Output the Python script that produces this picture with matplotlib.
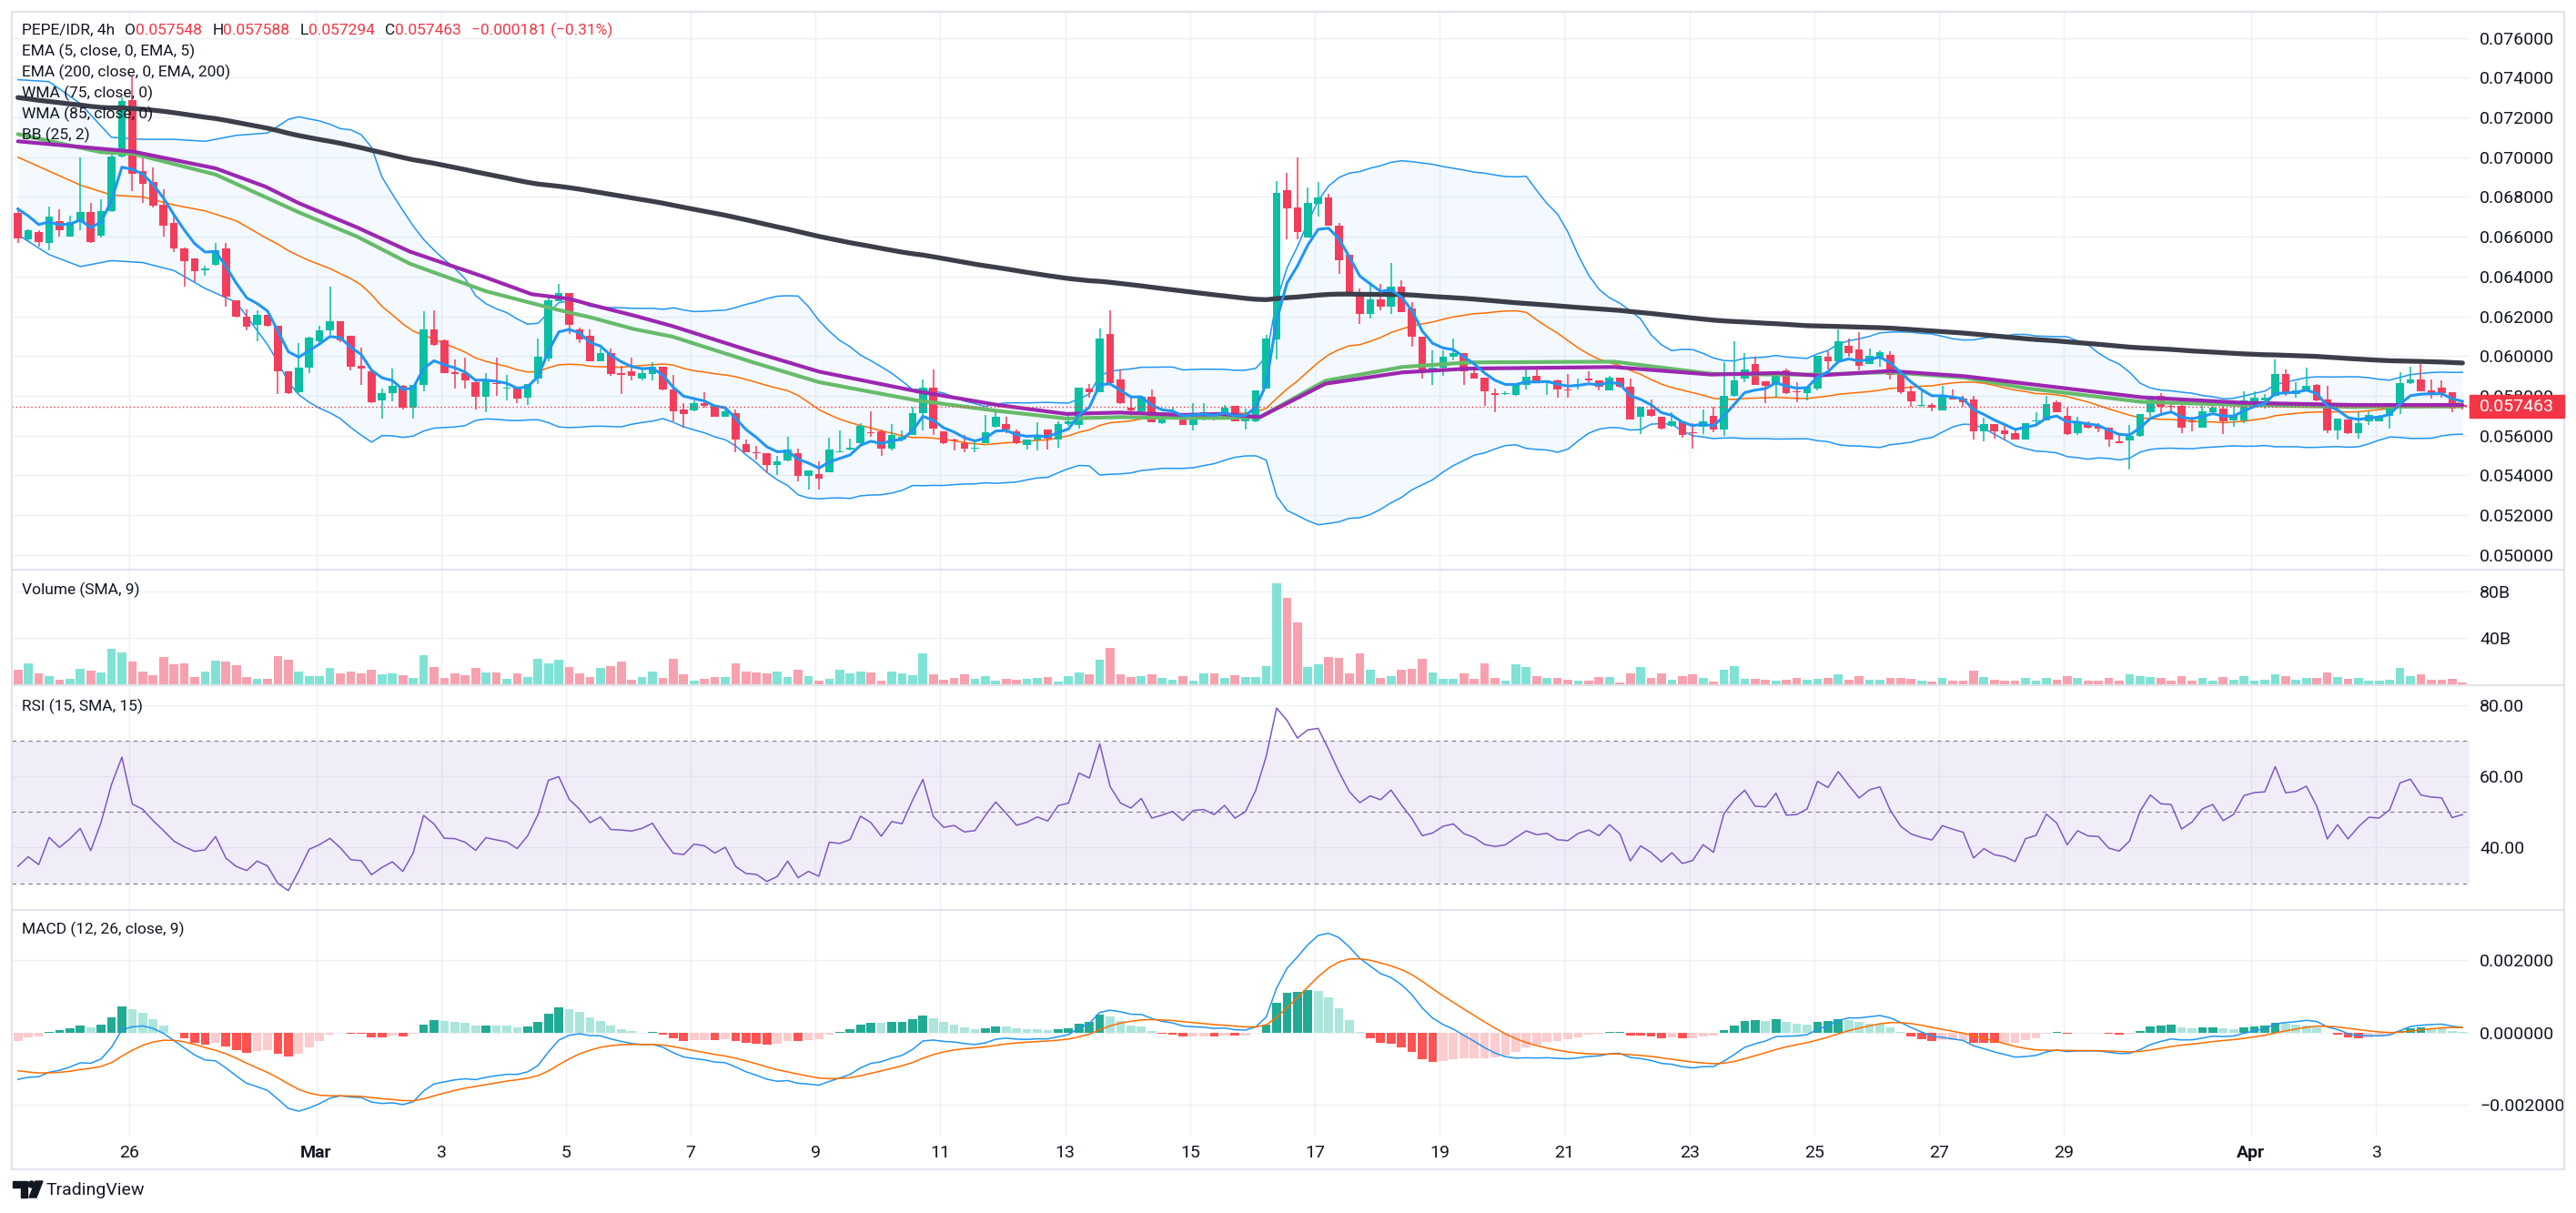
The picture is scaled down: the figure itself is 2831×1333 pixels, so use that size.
import numpy as np
import matplotlib
matplotlib.use("Agg")
import matplotlib.pyplot as plt
from matplotlib import transforms
from matplotlib.patches import Rectangle, Polygon, Circle

plt.rcParams['font.family'] = ['Roboto', 'DejaVu Sans']

# ---------------------------------------------------------------- data
first_candle_day = -4.78          # days after 1 Mar 00:00, 4h candles
candle_days = 1 / 6

opens = [
    0.06720, 0.06586, 0.06624, 0.06567, 0.06677, 0.06601, 0.06672, 0.06726, 0.06605, 0.06727,
    0.07005, 0.07287, 0.06929, 0.06875, 0.06761, 0.06669, 0.06543, 0.06491, 0.06430, 0.06459,
    0.06540, 0.06280, 0.06197, 0.06158, 0.06207, 0.06151, 0.05922, 0.05818, 0.05940, 0.06075,
    0.06128, 0.06174, 0.06101, 0.05953, 0.05925, 0.05777, 0.05815, 0.05849, 0.05742, 0.05854,
    0.06133, 0.06079, 0.05919, 0.05915, 0.05869, 0.05797, 0.05866, 0.05838, 0.05846, 0.05793,
    0.05889, 0.05986, 0.06277, 0.06316, 0.06136, 0.06101, 0.05975, 0.06014, 0.05915, 0.05922,
    0.05889, 0.05910, 0.05945, 0.05834, 0.05732, 0.05727, 0.05762, 0.05754, 0.05697, 0.05713,
    0.05556, 0.05518, 0.05511, 0.05450, 0.05477, 0.05511, 0.05399, 0.05407, 0.05416, 0.05518,
    0.05529, 0.05561, 0.05617, 0.05620, 0.05536, 0.05582, 0.05605, 0.05712, 0.05841, 0.05620,
    0.05579, 0.05564, 0.05533, 0.05564, 0.05643, 0.05658, 0.05620, 0.05552, 0.05579, 0.05629,
    0.05579, 0.05660, 0.05655, 0.05838, 0.05820, 0.06110, 0.05884, 0.05739, 0.05720, 0.05796,
    0.05663, 0.05686, 0.05693, 0.05652, 0.05693, 0.05713, 0.05689, 0.05750, 0.05671, 0.05674,
    0.05838, 0.06082, 0.06834, 0.06749, 0.06598, 0.06766, 0.06796, 0.06654, 0.06509, 0.06319,
    0.06212, 0.06284, 0.06250, 0.06349, 0.06238, 0.06098, 0.05918, 0.05940, 0.05998, 0.06014,
    0.05915, 0.05892, 0.05812, 0.05808, 0.05803, 0.05854, 0.05899, 0.05869, 0.05876, 0.05834,
    0.05849, 0.05887, 0.05876, 0.05828, 0.05892, 0.05846, 0.05693, 0.05732, 0.05693, 0.05651,
    0.05674, 0.05617, 0.05643, 0.05698, 0.05629, 0.05800, 0.05889, 0.05960, 0.05872, 0.05854,
    0.05930, 0.05823, 0.05815, 0.05838, 0.05995, 0.05976, 0.06052, 0.06034, 0.05960, 0.05986,
    0.06006, 0.05910, 0.05823, 0.05750, 0.05754, 0.05728, 0.05796, 0.05788, 0.05782, 0.05622,
    0.05658, 0.05625, 0.05613, 0.05582, 0.05670, 0.05675, 0.05770, 0.05698, 0.05613, 0.05663,
    0.05651, 0.05640, 0.05571, 0.05576, 0.05597, 0.05716, 0.05800, 0.05747, 0.05750, 0.05670,
    0.05640, 0.05719, 0.05735, 0.05678, 0.05678, 0.05774, 0.05777, 0.05800, 0.05910, 0.05808,
    0.05826, 0.05857, 0.05782, 0.05628, 0.05681, 0.05613, 0.05674, 0.05674, 0.05698, 0.05735,
    0.05866, 0.05884, 0.05828, 0.05841, 0.05820, 0.057548,
]
highs = [
    0.06746, 0.06639, 0.06631, 0.06753, 0.06738, 0.06708, 0.06997, 0.06769, 0.06787, 0.07028,
    0.07302, 0.07409, 0.07013, 0.06947, 0.06837, 0.06708, 0.06545, 0.06493, 0.06456, 0.06567,
    0.06567, 0.06282, 0.06235, 0.06230, 0.06209, 0.06153, 0.05925, 0.06067, 0.06098, 0.06151,
    0.06349, 0.06177, 0.06103, 0.06044, 0.05927, 0.05838, 0.05937, 0.05854, 0.05854, 0.06227,
    0.06230, 0.06082, 0.05983, 0.05994, 0.05871, 0.05915, 0.05991, 0.05907, 0.05848, 0.05861,
    0.06090, 0.06296, 0.06364, 0.06318, 0.06143, 0.06136, 0.06040, 0.06040, 0.05953, 0.05991,
    0.05937, 0.05968, 0.05945, 0.05907, 0.05762, 0.05777, 0.05819, 0.05754, 0.05735, 0.05732,
    0.05579, 0.05549, 0.05511, 0.05498, 0.05594, 0.05536, 0.05424, 0.05469, 0.05590, 0.05628,
    0.05587, 0.05663, 0.05721, 0.05632, 0.05658, 0.05625, 0.05747, 0.05884, 0.05933, 0.05620,
    0.05587, 0.05602, 0.05571, 0.05704, 0.05724, 0.05693, 0.05632, 0.05582, 0.05666, 0.05632,
    0.05670, 0.05717, 0.05841, 0.05861, 0.06140, 0.06232, 0.05933, 0.05800, 0.05796, 0.05831,
    0.05693, 0.05747, 0.05698, 0.05762, 0.05762, 0.05717, 0.05754, 0.05750, 0.05735, 0.05826,
    0.06105, 0.06880, 0.06921, 0.06999, 0.06848, 0.06875, 0.06817, 0.06669, 0.06509, 0.06338,
    0.06372, 0.06364, 0.06467, 0.06380, 0.06273, 0.06098, 0.06029, 0.06029, 0.06090, 0.06014,
    0.05945, 0.05892, 0.05838, 0.05823, 0.05861, 0.05942, 0.05933, 0.05876, 0.05884, 0.05910,
    0.05887, 0.05922, 0.05876, 0.05899, 0.05892, 0.05889, 0.05744, 0.05780, 0.05693, 0.05716,
    0.05674, 0.05663, 0.05732, 0.05747, 0.05971, 0.06075, 0.06017, 0.05998, 0.05872, 0.05925,
    0.05937, 0.05869, 0.05846, 0.06001, 0.06024, 0.06133, 0.06090, 0.06120, 0.06037, 0.06029,
    0.06024, 0.05910, 0.05850, 0.05823, 0.05762, 0.05850, 0.05834, 0.05800, 0.05800, 0.05689,
    0.05658, 0.05648, 0.05632, 0.05663, 0.05716, 0.05800, 0.05777, 0.05739, 0.05693, 0.05670,
    0.05663, 0.05640, 0.05605, 0.05655, 0.05709, 0.05800, 0.05815, 0.05758, 0.05762, 0.05693,
    0.05774, 0.05762, 0.05765, 0.05774, 0.05823, 0.05823, 0.05811, 0.05983, 0.05933, 0.05869,
    0.05942, 0.05861, 0.05850, 0.05686, 0.05681, 0.05719, 0.05724, 0.05704, 0.05747, 0.05918,
    0.05945, 0.05960, 0.05881, 0.05876, 0.05820, 0.057588,
]
lows = [
    0.06567, 0.06578, 0.06552, 0.06532, 0.06601, 0.06601, 0.06634, 0.06570, 0.06596, 0.06723,
    0.06997, 0.06830, 0.06769, 0.06749, 0.06601, 0.06521, 0.06349, 0.06372, 0.06403, 0.06453,
    0.06247, 0.06195, 0.06131, 0.06075, 0.06149, 0.05808, 0.05808, 0.05815, 0.05915, 0.06052,
    0.06105, 0.06070, 0.05930, 0.05854, 0.05762, 0.05686, 0.05773, 0.05732, 0.05686, 0.05823,
    0.06052, 0.05915, 0.05838, 0.05838, 0.05732, 0.05716, 0.05800, 0.05777, 0.05762, 0.05754,
    0.05861, 0.05975, 0.06277, 0.06113, 0.06067, 0.05972, 0.05975, 0.05899, 0.05808, 0.05876,
    0.05876, 0.05876, 0.05826, 0.05670, 0.05640, 0.05724, 0.05739, 0.05693, 0.05693, 0.05514,
    0.05514, 0.05480, 0.05414, 0.05404, 0.05472, 0.05369, 0.05328, 0.05328, 0.05416, 0.05518,
    0.05526, 0.05559, 0.05594, 0.05500, 0.05526, 0.05571, 0.05602, 0.05628, 0.05602, 0.05556,
    0.05526, 0.05514, 0.05518, 0.05561, 0.05640, 0.05613, 0.05556, 0.05530, 0.05526, 0.05530,
    0.05541, 0.05648, 0.05637, 0.05790, 0.05820, 0.05854, 0.05759, 0.05693, 0.05717, 0.05666,
    0.05658, 0.05683, 0.05652, 0.05625, 0.05678, 0.05678, 0.05689, 0.05671, 0.05632, 0.05666,
    0.05838, 0.05983, 0.06586, 0.06586, 0.06598, 0.06700, 0.06654, 0.06415, 0.06314, 0.06162,
    0.06189, 0.06232, 0.06212, 0.06223, 0.06049, 0.05887, 0.05857, 0.05902, 0.05980, 0.05854,
    0.05887, 0.05750, 0.05716, 0.05805, 0.05800, 0.05834, 0.05869, 0.05803, 0.05790, 0.05790,
    0.05834, 0.05869, 0.05826, 0.05826, 0.05841, 0.05681, 0.05610, 0.05693, 0.05632, 0.05645,
    0.05591, 0.05536, 0.05610, 0.05617, 0.05597, 0.05796, 0.05869, 0.05854, 0.05762, 0.05796,
    0.05808, 0.05770, 0.05777, 0.05826, 0.05934, 0.05973, 0.05995, 0.05930, 0.05960, 0.05945,
    0.05884, 0.05808, 0.05747, 0.05747, 0.05724, 0.05728, 0.05782, 0.05747, 0.05582, 0.05571,
    0.05587, 0.05582, 0.05579, 0.05582, 0.05655, 0.05675, 0.05716, 0.05605, 0.05605, 0.05637,
    0.05617, 0.05545, 0.05561, 0.05430, 0.05594, 0.05693, 0.05701, 0.05716, 0.05613, 0.05622,
    0.05640, 0.05716, 0.05610, 0.05643, 0.05663, 0.05770, 0.05735, 0.05797, 0.05800, 0.05790,
    0.05823, 0.05774, 0.05613, 0.05582, 0.05610, 0.05587, 0.05652, 0.05670, 0.05637, 0.05709,
    0.05861, 0.05823, 0.05785, 0.05790, 0.05719, 0.057294,
]
closes = [
    0.06593, 0.06634, 0.06575, 0.06700, 0.06631, 0.06672, 0.06723, 0.06573, 0.06727, 0.07002,
    0.07284, 0.06918, 0.06868, 0.06758, 0.06657, 0.06543, 0.06479, 0.06428, 0.06439, 0.06532,
    0.06300, 0.06197, 0.06146, 0.06207, 0.06151, 0.05922, 0.05815, 0.05940, 0.06093, 0.06128,
    0.06174, 0.06078, 0.05948, 0.05937, 0.05770, 0.05815, 0.05849, 0.05742, 0.05854, 0.06133,
    0.06055, 0.05915, 0.05911, 0.05876, 0.05797, 0.05881, 0.05861, 0.05843, 0.05788, 0.05861,
    0.05998, 0.06280, 0.06316, 0.06158, 0.06082, 0.05972, 0.06014, 0.05911, 0.05907, 0.05899,
    0.05915, 0.05945, 0.05834, 0.05720, 0.05709, 0.05762, 0.05750, 0.05697, 0.05724, 0.05579,
    0.05518, 0.05511, 0.05450, 0.05469, 0.05529, 0.05399, 0.05424, 0.05385, 0.05529, 0.05521,
    0.05538, 0.05648, 0.05613, 0.05536, 0.05605, 0.05594, 0.05712, 0.05841, 0.05637, 0.05564,
    0.05575, 0.05533, 0.05540, 0.05617, 0.05693, 0.05632, 0.05564, 0.05579, 0.05605, 0.05584,
    0.05658, 0.05670, 0.05841, 0.05820, 0.06087, 0.05866, 0.05762, 0.05729, 0.05796, 0.05666,
    0.05686, 0.05709, 0.05652, 0.05712, 0.05717, 0.05689, 0.05739, 0.05671, 0.05704, 0.05826,
    0.06087, 0.06822, 0.06743, 0.06624, 0.06769, 0.06796, 0.06654, 0.06483, 0.06314, 0.06212,
    0.06284, 0.06250, 0.06349, 0.06223, 0.06098, 0.05918, 0.05940, 0.05995, 0.06014, 0.05925,
    0.05889, 0.05823, 0.05805, 0.05815, 0.05857, 0.05896, 0.05869, 0.05876, 0.05834, 0.05828,
    0.05861, 0.05876, 0.05846, 0.05892, 0.05846, 0.05681, 0.05744, 0.05701, 0.05637, 0.05674,
    0.05602, 0.05613, 0.05674, 0.05629, 0.05800, 0.05876, 0.05933, 0.05854, 0.05851, 0.05925,
    0.05815, 0.05818, 0.05846, 0.06001, 0.05973, 0.06075, 0.06014, 0.05953, 0.06001, 0.06018,
    0.05907, 0.05820, 0.05774, 0.05754, 0.05739, 0.05800, 0.05782, 0.05767, 0.05622, 0.05658,
    0.05622, 0.05610, 0.05582, 0.05663, 0.05675, 0.05759, 0.05719, 0.05610, 0.05666, 0.05640,
    0.05637, 0.05579, 0.05564, 0.05597, 0.05709, 0.05782, 0.05747, 0.05744, 0.05640, 0.05667,
    0.05721, 0.05739, 0.05674, 0.05698, 0.05777, 0.05790, 0.05793, 0.05912, 0.05820, 0.05826,
    0.05850, 0.05777, 0.05628, 0.05686, 0.05613, 0.05663, 0.05704, 0.05701, 0.05735, 0.05864,
    0.05884, 0.05823, 0.05815, 0.05812, 0.05735, 0.057463,
]
volumes_b = [
    12.9, 18.4, 9.8, 7.5, 4.7, 5.2, 13.7, 12.2, 10.6, 30.8,
    27.7, 19.9, 11.4, 8.3, 23.8, 17.6, 18.4, 6.7, 11.4, 20.7,
    19.9, 16.8, 6.7, 5.2, 5.2, 24.6, 21.5, 11.4, 7.5, 7.5,
    14.5, 9.8, 11.4, 9.8, 12.9, 9.1, 9.8, 8.3, 6.0, 25.4,
    15.3, 6.0, 9.8, 8.3, 14.5, 10.6, 10.6, 5.2, 9.8, 6.7,
    22.3, 18.4, 21.5, 15.3, 9.8, 6.7, 14.5, 16.1, 19.9, 4.4,
    6.7, 11.4, 6.0, 22.3, 9.1, 3.6, 5.2, 6.7, 6.7, 18.4,
    11.4, 10.6, 9.8, 11.4, 6.7, 12.9, 7.8, 3.9, 5.5, 13.3,
    10.2, 11.8, 11.0, 3.9, 11.8, 10.2, 8.6, 27.4, 9.4, 4.7,
    6.3, 9.4, 5.5, 7.8, 3.9, 5.5, 4.7, 5.5, 6.3, 7.1,
    3.1, 7.8, 11.0, 9.4, 22.0, 32.2, 9.4, 7.1, 7.8, 9.4,
    6.3, 4.7, 7.8, 3.9, 10.2, 10.2, 6.3, 8.5, 6.9, 6.9,
    16.3, 86.8, 74.4, 53.5, 15.7, 17.9, 24.1, 23.2, 10.1, 27.1,
    13.0, 6.2, 7.8, 13.0, 14.0, 22.5, 10.8, 5.5, 5.5, 10.1,
    5.5, 18.3, 6.2, 3.9, 17.6, 15.7, 7.8, 6.2, 6.2, 4.6,
    3.9, 3.9, 6.9, 6.9, 2.3, 10.1, 15.7, 6.2, 10.1, 4.6,
    7.8, 9.5, 6.2, 3.3, 13.0, 16.3, 5.5, 5.5, 4.6, 3.9,
    4.6, 6.2, 4.6, 5.5, 6.0, 9.5, 5.0, 8.0, 4.5, 5.0,
    6.5, 6.0, 5.5, 3.5, 3.0, 6.0, 4.0, 4.0, 12.5, 7.0,
    4.5, 4.0, 4.0, 6.0, 3.5, 6.5, 5.0, 7.5, 6.0, 3.5,
    3.5, 6.5, 4.0, 9.0, 7.5, 7.0, 6.5, 3.5, 7.5, 4.0,
    6.5, 3.5, 7.0, 5.0, 7.5, 4.0, 4.5, 9.5, 8.0, 4.5,
    6.0, 6.0, 11.0, 7.0, 5.5, 6.5, 4.0, 3.5, 5.0, 15.0,
    8.0, 9.0, 5.0, 4.5, 5.5, 2.0,
]

# indicator lines (candle index, value)
wma75_idx = [0, 8, 11.1, 19, 27, 32.6, 37.7, 45, 51.7, 55.1, 59.2, 62.9, 70.7, 77, 86.4, 94.2,
             100.8, 105.9, 112, 115.7, 119.4, 125.7, 133.1, 139.4, 153.4, 162.8, 169.2, 173,
             179.9, 187.1, 193.1, 204.1, 213.9, 224.6, 235]
wma75_val = [0.07116, 0.07025, 0.07017, 0.06913, 0.06723, 0.06601, 0.06464, 0.06326, 0.06235,
             0.06194, 0.06136, 0.06098, 0.05968, 0.05869, 0.05777, 0.05724, 0.05686, 0.05693,
             0.05689, 0.05689, 0.05693, 0.05876, 0.05945, 0.05968, 0.05972, 0.05911, 0.05907,
             0.05907, 0.05919, 0.05892, 0.05838, 0.05770, 0.05754, 0.05744, 0.05747]
wma85_idx = [0, 11.1, 19, 23.8, 27, 32.6, 37.7, 45, 49.4, 53, 55.1, 59.2, 62.9, 70.7, 77, 86.4,
             94.2, 100.8, 105.9, 112, 115.7, 119.4, 125.7, 133.1, 139.4, 153.4, 162.8, 169.2,
             173, 179.9, 187.1, 193.1, 204.1, 213.9, 224.6, 235]
wma85_val = [0.07080, 0.07028, 0.06944, 0.06852, 0.06769, 0.06647, 0.06525, 0.06395, 0.06311,
             0.06288, 0.06258, 0.06204, 0.06151, 0.06021, 0.05922, 0.05823, 0.05754, 0.05709,
             0.05716, 0.05704, 0.05709, 0.05693, 0.05861, 0.05918, 0.05937, 0.05945, 0.05907,
             0.05915, 0.05902, 0.05925, 0.05899, 0.05861, 0.05793, 0.05765, 0.05754, 0.05754]
# Bollinger values before a full 25-candle window is visible
bb_early_idx = [0, 3, 6, 9, 12, 15, 18, 21]
bb_early_upper = [0.0739, 0.0738, 0.0727, 0.0710, 0.0709, 0.0709, 0.0708, 0.0711]
bb_early_basis = [0.0700, 0.0693, 0.0686, 0.0681, 0.0680, 0.0676, 0.0673, 0.0668]
bb_early_lower = [0.0661, 0.0651, 0.0645, 0.0648, 0.0647, 0.0643, 0.0634, 0.0627]
# indicator state at the first visible candle
ema5_start = 0.0674
ema200_start = 0.0730
ema12_start, ema26_start, signal_start = 0.0668, 0.0681, -0.00106
rsi_gain_start, rsi_loss_start = 0.00024, 0.00045

price_ticks = [0.050, 0.052, 0.054, 0.056, 0.058, 0.060, 0.062, 0.064, 0.066, 0.068,
               0.070, 0.072, 0.074, 0.076]
vol_ticks, vol_labels = [40, 80], ["40B", "80B"]
rsi_ticks, rsi_labels = [40, 60, 80], ["40.00", "60.00", "80.00"]
macd_ticks, macd_labels = [-0.002, 0.0, 0.002], ["\u22120.002000", "0.000000", "0.002000"]
date_days = [-3, 0, 2, 4, 6, 8, 10, 12, 14, 16, 18, 20, 22, 24, 26, 28, 31, 33]
date_labels = ["26", "Mar", "3", "5", "7", "9", "11", "13", "15", "17", "19", "21", "23",
               "25", "27", "29", "Apr", "3"]
month_labels = {"Mar", "Apr"}

# ---------------------------------------------------------------- indicators
o = np.array(opens); h = np.array(highs); l = np.array(lows); c = np.array(closes)
v = np.array(volumes_b)
n = len(c)
x = first_candle_day + np.arange(n) * candle_days


def ema(series, length, start):
    out = np.empty(len(series)); out[0] = start
    a = 2.0 / (length + 1)
    for i in range(1, len(series)):
        out[i] = out[i - 1] + a * (series[i] - out[i - 1])
    return out


ema5 = ema(c, 5, ema5_start)
ema200 = ema(c, 200, ema200_start)
macd = ema(c, 12, ema12_start) - ema(c, 26, ema26_start)
sig = np.empty(n); sig[0] = signal_start
for i in range(1, n):
    sig[i] = sig[i - 1] + 0.2 * (macd[i] - sig[i - 1])
hist = macd - sig

rsi = np.empty(n)
g, lo = rsi_gain_start, rsi_loss_start
rsi[0] = 100 * g / (g + lo)
for i in range(1, n):
    d = c[i] - c[i - 1]
    g = (g * 14 + max(d, 0)) / 15
    lo = (lo * 14 + max(-d, 0)) / 15
    rsi[i] = 100 * g / (g + lo)

bb_idx = list(bb_early_idx); bb_up = list(bb_early_upper)
bb_mid = list(bb_early_basis); bb_low = list(bb_early_lower)
for i in range(24, n):
    w = c[i - 24:i + 1]
    m, s = w.mean(), w.std()
    bb_idx.append(i); bb_mid.append(m); bb_up.append(m + 2 * s); bb_low.append(m - 2 * s)
bb_x = first_candle_day + np.array(bb_idx) * candle_days

# ---------------------------------------------------------------- figure
W, H = 2831, 1333
fig = plt.figure(figsize=(W / 100, H / 100), dpi=100, facecolor="white")

L, R = 13, 2714


def px_axes(y0, y1):
    return fig.add_axes([L / W, 1 - y1 / H, (R - L) / W, (y1 - y0) / H])


ax = px_axes(13, 626)
axv = px_axes(626, 753)
axr = px_axes(753, 1000)
axm = px_axes(1000, 1248)

UP, DN = "#0ABFA3", "#F23E5C"
GRID = "#EEF0F5"
TXT = "#131722"
LBL = 14

for a in (ax, axv, axr, axm):
    a.set_xlim(-4.877, 34.50)
    a.set_facecolor("white")
    for s in a.spines.values():
        s.set_visible(False)
    a.set_xticks(date_days)
    a.tick_params(axis="x", length=0, labelbottom=False)
    a.yaxis.tick_right()
    a.tick_params(axis="y", length=0, pad=8, labelsize=LBL, labelcolor=TXT)
    a.grid(True, color=GRID, lw=1.0, zorder=0)
    a.set_axisbelow(True)

# ---- main price panel
ax.set_ylim(0.04926, 0.07731)
ax.set_yticks(price_ticks)
ax.set_yticklabels([f"{t:.6f}" for t in price_ticks])

ax.fill_between(bb_x, bb_low, bb_up, color="#2196F3", alpha=0.05, lw=0, zorder=1)
ax.plot(bb_x, bb_up, color="#2196F3", lw=1.1, zorder=2)
ax.plot(bb_x, bb_low, color="#2196F3", lw=1.1, zorder=2)
ax.plot(bb_x, bb_mid, color="#FF6D00", lw=1.1, zorder=2)

colors = np.where(c >= o, UP, DN)
ax.vlines(x, l, h, colors=colors, lw=1.1, zorder=3)
body = np.maximum(np.abs(c - o), 0.00004)
ax.bar(x, body, bottom=np.minimum(o, c), width=0.75 * candle_days, color=colors, lw=0, zorder=3)

wx75 = first_candle_day + np.array(wma75_idx) * candle_days
wx85 = first_candle_day + np.array(wma85_idx) * candle_days
ax.plot(wx75, wma75_val, color="#66BB6A", lw=3.0, zorder=4, solid_capstyle="round")
ax.plot(wx85, wma85_val, color="#9C27B0", lw=3.0, zorder=4, solid_capstyle="round")
ax.plot(x, ema200, color="#3C3E4A", lw=3.8, zorder=4, solid_capstyle="round")
ax.plot(x, ema5, color="#2196F3", lw=2.2, zorder=5)
ax.axhline(c[-1], color="#F23645", lw=1.0, ls=(0, (1, 2)), zorder=5)

# ---- volume
axv.set_ylim(0, 98.6)
axv.set_yticks(vol_ticks); axv.set_yticklabels(vol_labels)
vcol = np.where(c >= o, "#80E2D5", "#F7A1AF")
axv.bar(x, v, width=0.85 * candle_days, color=vcol, lw=0, zorder=2)

# ---- RSI
axr.set_ylim(22.5, 85.6)
axr.set_yticks(rsi_ticks); axr.set_yticklabels(rsi_labels)
axr.axhspan(30, 70, color="#7E57C2", alpha=0.1, lw=0, zorder=1)
for lev in (30, 50, 70):
    axr.axhline(lev, color="#787B86", lw=0.8, ls=(0, (4, 4)), zorder=2)
axr.plot(x, rsi, color="#7E57C2", lw=1.1, zorder=3)

# ---- MACD
axm.set_ylim(-0.002855, 0.003384)
axm.set_yticks(macd_ticks); axm.set_yticklabels(macd_labels)
hcol = []
for i in range(n):
    prev = hist[i - 1] if i > 0 else hist[i]
    if hist[i] >= 0:
        hcol.append("#22AB94" if hist[i] > prev else "#ACE5DC")
    else:
        hcol.append("#FF5252" if hist[i] < prev else "#FCCBCD")
axm.bar(x, hist, width=0.85 * candle_days, color=hcol, lw=0, zorder=2)
axm.plot(x, macd, color="#2196F3", lw=1.1, zorder=3)
axm.plot(x, sig, color="#FF6D00", lw=1.1, zorder=3)

# ---------------------------------------------------------------- overlay (frame, texts)
ov = fig.add_axes([0, 0, 1, 1])
ov.set_xlim(0, W); ov.set_ylim(H, 0); ov.axis("off"); ov.set_zorder(10)
ov.patch.set_alpha(0)

FR = "#E0E3EB"
ov.add_patch(Rectangle((13, 13), 2805, 1272, fill=False, ec=FR, lw=1.5))
for yy in (626, 753, 1000):
    ov.plot([13, 2818], [yy, yy], color=FR, lw=1.5)

# current price marker
fig.canvas.draw()
y_disp = ax.transData.transform((0, c[-1]))[1]
y_px = H - y_disp
ov.add_patch(Rectangle((R, y_px - 12.5), 2818 - R, 25, color="#F23645", zorder=11))
ov.text(R + 8 * 100 / 72, y_px, f"{c[-1]:.6f}", color="white", fontsize=LBL,
        va="center", ha="left", zorder=12)

# date labels
btr = transforms.blended_transform_factory(axm.transData, ov.transData)
for d, lab in zip(date_days, date_labels):
    ov.text(d, 1267, lab, transform=btr, ha="center", va="center", fontsize=LBL, color=TXT,
            fontweight="bold" if lab in month_labels else "normal")

LEG = 12.5


def chain(parts, x0, y0):
    t = ov.text(x0, y0, parts[0][0], color=parts[0][1], fontsize=LEG, va="center", ha="left")
    for s, col, gap in parts[1:]:
        t = ov.annotate(s, xy=(1, 0.5), xycoords=t, xytext=(gap, 0), textcoords="offset points",
                        color=col, fontsize=LEG, va="center", ha="left", annotation_clip=False)


RED = "#F23645"
chain([("PEPE/IDR, 4h", TXT), ("O", TXT, 8), (f"{o[-1]:.6f}", RED, 0),
       ("H", TXT, 8), (f"{h[-1]:.6f}", RED, 0), ("L", TXT, 8), (f"{l[-1]:.6f}", RED, 0),
       ("C", TXT, 8), (f"{c[-1]:.6f}", RED, 0), ("\u22120.000181 (\u22120.31%)", RED, 8)], 24, 33)
for txt, yy in [("EMA (5, close, 0, EMA, 5)", 56), ("EMA (200, close, 0, EMA, 200)", 79.5),
                ("WMA (75, close, 0)", 102), ("WMA (85, close, 0)", 125), ("BB (25, 2)", 148)]:
    ov.text(24, yy, txt, color=TXT, fontsize=LEG, va="center", ha="left")
ov.text(24, 648, "Volume (SMA, 9)", color=TXT, fontsize=LEG, va="center", ha="left")
ov.text(24, 776, "RSI (15, SMA, 15)", color=TXT, fontsize=LEG, va="center", ha="left")
ov.text(24, 1021, "MACD (12, 26, close, 9)", color=TXT, fontsize=LEG, va="center", ha="left")

# TradingView logo
ov.add_patch(Polygon([(14, 1298), (30, 1298), (30, 1316), (23, 1316), (23, 1305), (14, 1305)],
                     closed=True, color=TXT))
ov.add_patch(Circle((34.5, 1301.5), 3.5, color=TXT))
ov.add_patch(Polygon([(32, 1316), (39, 1298), (47, 1298), (40, 1316)], closed=True, color=TXT))
ov.text(51, 1308, "TradingView", color=TXT, fontsize=14, va="center", ha="left")

fig.savefig("out.png", dpi=100, facecolor="white")
